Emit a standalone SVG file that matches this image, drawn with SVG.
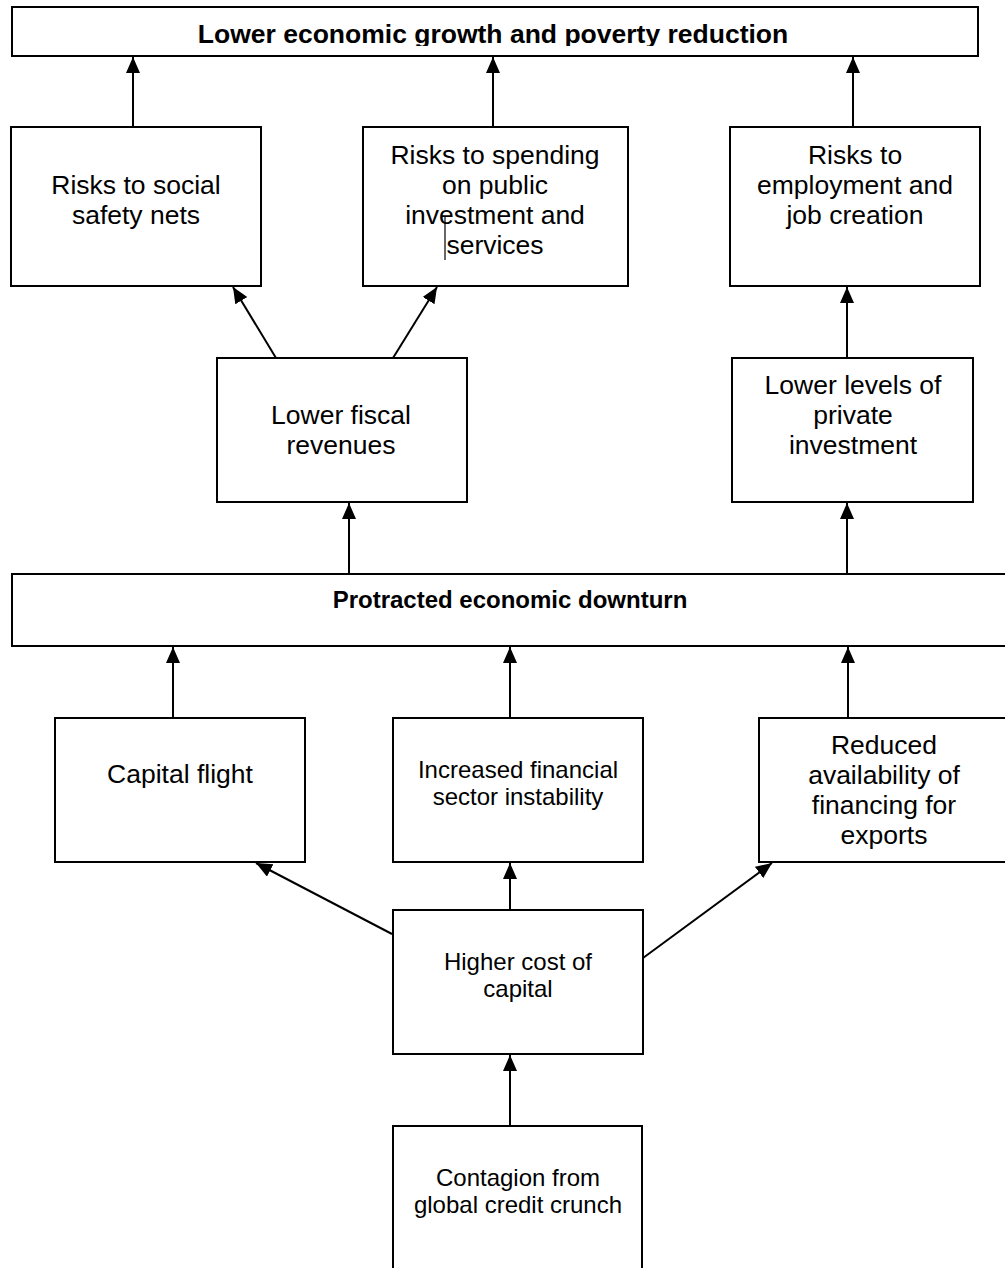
<svg xmlns="http://www.w3.org/2000/svg" width="1005" height="1268" viewBox="0 0 1005 1268">
<style>
.box{fill:#fff;stroke:#000;stroke-width:2}
.t{font-family:"Liberation Sans",Arial,sans-serif;font-size:26.5px;text-anchor:middle;fill:#000}
.s{font-family:"Liberation Sans",Arial,sans-serif;font-size:24px;text-anchor:middle;fill:#000}
.b{font-family:"Liberation Sans",Arial,sans-serif;font-weight:bold;text-anchor:middle;fill:#000}
.c{stroke:#000;stroke-width:2;fill:none;marker-end:url(#ah)}
</style>
<defs>
<marker id="ah" markerUnits="userSpaceOnUse" markerWidth="18" markerHeight="16" refX="16" refY="7" orient="auto">
<path d="M0,0 L16,7 L0,14 z" fill="#000"/>
</marker>
<clipPath id="titleclip"><rect x="0" y="0" width="1005" height="46"/></clipPath>
</defs>
<rect width="1005" height="1268" fill="#fff"/>
<g id="connectors">
<line class="c" x1="133" y1="128" x2="133" y2="57"/>
<line class="c" x1="493" y1="128" x2="493" y2="57"/>
<line class="c" x1="853" y1="128" x2="853" y2="57"/>
<line class="c" x1="276" y1="358" x2="233" y2="287"/>
<line class="c" x1="393" y1="358" x2="437" y2="287"/>
<line class="c" x1="847" y1="358" x2="847" y2="287"/>
<line class="c" x1="349" y1="574" x2="349" y2="503"/>
<line class="c" x1="847" y1="574" x2="847" y2="503"/>
<line class="c" x1="173" y1="718" x2="173" y2="647"/>
<line class="c" x1="510" y1="718" x2="510" y2="647"/>
<line class="c" x1="848" y1="718" x2="848" y2="647"/>
<line class="c" x1="392" y1="934" x2="256" y2="863"/>
<line class="c" x1="510" y1="910" x2="510" y2="863"/>
<line class="c" x1="643" y1="958" x2="772" y2="863"/>
<line class="c" x1="510" y1="1126" x2="510" y2="1055"/>
</g>
<g id="n-top">
<rect class="box" x="12" y="7" width="966" height="49"/>
<text class="b" x="493" y="43" font-size="26.5" clip-path="url(#titleclip)">Lower economic growth and poverty reduction</text>
</g>
<g id="n-social">
<rect class="box" x="11" y="127" width="250" height="159"/>
<text class="t" x="136" y="194">Risks to social</text>
<text class="t" x="136" y="224">safety nets</text>
</g>
<g id="n-spending">
<rect class="box" x="363" y="127" width="265" height="159"/>
<text class="t" x="495" y="164">Risks to spending</text>
<text class="t" x="495" y="194">on public</text>
<text class="t" x="495" y="224">investment and</text>
<text class="t" x="495" y="254">services</text>
<line x1="445" y1="217" x2="445" y2="260" stroke="#000" stroke-width="1.2"/>
</g>
<g id="n-employment">
<rect class="box" x="730" y="127" width="250" height="159"/>
<text class="t" x="855" y="164">Risks to</text>
<text class="t" x="855" y="194">employment and</text>
<text class="t" x="855" y="224">job creation</text>
</g>
<g id="n-fiscal">
<rect class="box" x="217" y="358" width="250" height="144"/>
<text class="t" x="341" y="424">Lower fiscal</text>
<text class="t" x="341" y="454">revenues</text>
</g>
<g id="n-private">
<rect class="box" x="732" y="358" width="241" height="144"/>
<text class="t" x="853" y="394">Lower levels of</text>
<text class="t" x="853" y="424">private</text>
<text class="t" x="853" y="454">investment</text>
</g>
<g id="n-downturn">
<rect class="box" x="12" y="574" width="1000" height="72"/>
<text class="b" x="510" y="608" font-size="24">Protracted economic downturn</text>
</g>
<g id="n-capital-flight">
<rect class="box" x="55" y="718" width="250" height="144"/>
<text class="t" x="180" y="783">Capital flight</text>
</g>
<g id="n-financial">
<rect class="box" x="393" y="718" width="250" height="144"/>
<text class="s" x="518" y="778">Increased financial</text>
<text class="s" x="518" y="805">sector instability</text>
</g>
<g id="n-exports">
<rect class="box" x="759" y="718" width="260" height="144"/>
<text class="t" x="884" y="754">Reduced</text>
<text class="t" x="884" y="784">availability of</text>
<text class="t" x="884" y="814">financing for</text>
<text class="t" x="884" y="844">exports</text>
</g>
<g id="n-cost">
<rect class="box" x="393" y="910" width="250" height="144"/>
<text class="s" x="518" y="970">Higher cost of</text>
<text class="s" x="518" y="997">capital</text>
</g>
<g id="n-contagion">
<rect class="box" x="393" y="1126" width="249" height="160"/>
<text class="s" x="518" y="1186">Contagion from</text>
<text class="s" x="518" y="1213">global credit crunch</text>
</g>
</svg>
